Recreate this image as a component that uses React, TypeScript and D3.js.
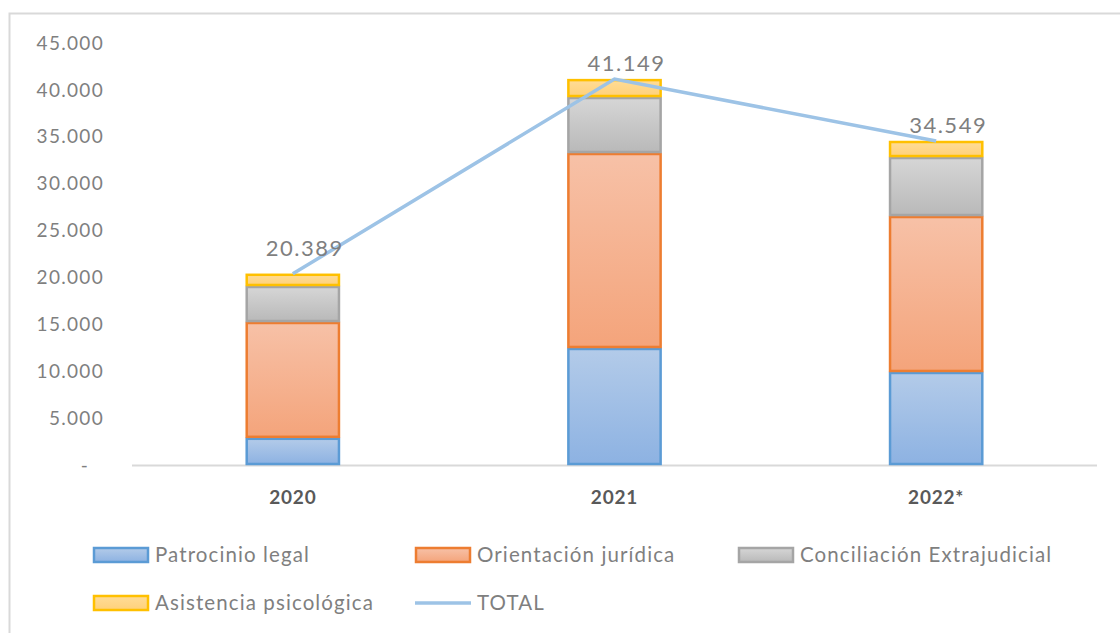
import React, { useEffect, useRef } from "react";
import * as d3 from "d3";

const years = ["2020", "2021", "2022*"];
const seriesNames = [
  "Patrocinio legal",
  "Orientación jurídica",
  "Conciliación Extrajudicial",
  "Asistencia psicológica",
];
const patrocinio = [2900, 12480, 9920];
const orientacion = [12350, 20790, 16630];
const conciliacion = [3840, 5970, 6290];
const asistencia = [1299, 1909, 1709];
const totals = [20389, 41149, 34549];
const yTicks = [0, 5000, 10000, 15000, 20000, 25000, 30000, 35000, 40000, 45000];

const fills = [
  ["#b3cbe9", "#8db2e2", "#5b9bd5"],
  ["#f7c1a7", "#f4a47b", "#ed7d31"],
  ["#d6d6d6", "#b9b9b9", "#a5a5a5"],
  ["#ffdc97", "#ffd17a", "#ffc000"],
];

const FONT = "Lato, 'Open Sans', sans-serif";
// vertical offset of each total label above its point
const labelLift = [25, 16, 16];

export default function App() {
  const ref = useRef<SVGSVGElement>(null);

  useEffect(() => {
    const svg = d3.select(ref.current);
    svg.selectAll("*").remove();
    const W = 1120, H = 633;
    const x0 = 132, x1 = 1097, yTop = 43, yBase = 465;

    const defs = svg.append("defs");
    fills.forEach((f, i) => {
      const g = defs.append("linearGradient").attr("id", "g" + i)
        .attr("x1", 0).attr("y1", 0).attr("x2", 0).attr("y2", 1);
      g.append("stop").attr("offset", "0%").attr("stop-color", f[0]);
      g.append("stop").attr("offset", "100%").attr("stop-color", f[1]);
    });

    svg.append("rect").attr("width", W).attr("height", H).attr("fill", "#fff");
    // frame (top and left edges visible)
    svg.append("path").attr("d", `M9.5,${H} V13.5 H${W}`)
      .attr("fill", "none").attr("stroke", "#d9d9d9").attr("stroke-width", 2);

    const x = d3.scaleBand().domain(years).range([x0, x1]).paddingInner(0.707).paddingOuter(0.3535);
    const y = d3.scaleLinear().domain([0, 45000]).range([yBase, yTop]);

    const fmt = (v: number) => v === 0 ? "-" : d3.format(",")(v).replace(/,/g, ".");

    const ya = svg.append("g");
    ya.selectAll("text").data(yTicks).enter().append("text")
      .attr("x", (d) => d === 0 ? 89 : 104).attr("y", (d) => y(d))
      .attr("dy", "0.35em").attr("text-anchor", "end")
      .attr("font-family", FONT).attr("font-size", 19).attr("letter-spacing", 1.3)
      .attr("fill", "#7f7f7f")
      .text(fmt);

    svg.append("line").attr("x1", x0).attr("x2", x1).attr("y1", yBase + 0.5).attr("y2", yBase + 0.5)
      .attr("stroke", "#d9d9d9").attr("stroke-width", 2);

    const rows = years.map((yr, i) => ({
      year: yr,
      vals: [patrocinio[i], orientacion[i], conciliacion[i], asistencia[i]],
    }));
    const stack = d3.stack<any>().keys([0, 1, 2, 3].map(String))
      .value((d: any, k) => d.vals[+k]);
    const stacked = stack(rows);

    stacked.forEach((layer, si) => {
      svg.append("g").selectAll("rect").data(layer).enter().append("rect")
        .attr("x", (d: any) => x(d.data.year)! + 1)
        .attr("width", x.bandwidth() - 2)
        .attr("y", (d) => y(d[1]) + 1)
        .attr("height", (d) => Math.max(0, y(d[0]) - y(d[1]) - 2))
        .attr("fill", `url(#g${si})`)
        .attr("stroke", fills[si][2]).attr("stroke-width", 2.5);
    });

    const line = d3.line<number>()
      .x((d, i) => x(years[i])! + x.bandwidth() / 2)
      .y((d) => y(d));
    svg.append("path").datum(totals).attr("d", line)
      .attr("fill", "none").attr("stroke", "#9dc3e6").attr("stroke-width", 3.5);

    svg.append("g").selectAll("text").data(totals).enter().append("text")
      .attr("x", (d, i) => x(years[i])! + x.bandwidth() / 2 + 12)
      .attr("y", (d, i) => y(d) - labelLift[i])
      .attr("dy", "0.35em")
      .attr("text-anchor", "middle")
      .attr("font-family", FONT).attr("font-size", 22).attr("letter-spacing", 1.5)
      .attr("fill", "#7f7f7f")
      .text((d) => fmt(d));

    svg.append("g").selectAll("text").data(years).enter().append("text")
      .attr("x", (d) => x(d)! + x.bandwidth() / 2).attr("y", 504)
      .attr("text-anchor", "middle")
      .attr("font-family", FONT).attr("font-size", 19).attr("font-weight", "bold")
      .attr("letter-spacing", 0.8).attr("fill", "#595959")
      .text((d) => d);

    // legend
    const legend = [
      { name: seriesNames[0], x: 93, y: 555, kind: 0 },
      { name: seriesNames[1], x: 415, y: 555, kind: 1 },
      { name: seriesNames[2], x: 738, y: 555, kind: 2 },
      { name: seriesNames[3], x: 93, y: 603, kind: 3 },
      { name: "TOTAL", x: 415, y: 603, kind: -1 },
    ];
    legend.forEach((l) => {
      const g = svg.append("g");
      if (l.kind >= 0) {
        g.append("rect").attr("x", l.x + 1).attr("y", l.y - 7).attr("width", 54).attr("height", 14)
          .attr("fill", `url(#g${l.kind})`).attr("stroke", fills[l.kind][2]).attr("stroke-width", 2.5);
      } else {
        g.append("line").attr("x1", l.x).attr("x2", l.x + 56).attr("y1", l.y).attr("y2", l.y)
          .attr("stroke", "#9dc3e6").attr("stroke-width", 3.5);
      }
      g.append("text").attr("x", l.x + 62).attr("y", l.y).attr("dy", "0.35em")
        .attr("font-family", FONT).attr("font-size", 20.5).attr("letter-spacing", 1.1)
        .attr("fill", "#7f7f7f")
        .text(l.name);
    });
  }, []);

  return (
    <svg ref={ref} width={1120} height={633}
      style={{ position: "absolute", left: 0, top: 0, display: "block" }} />
  );
}
